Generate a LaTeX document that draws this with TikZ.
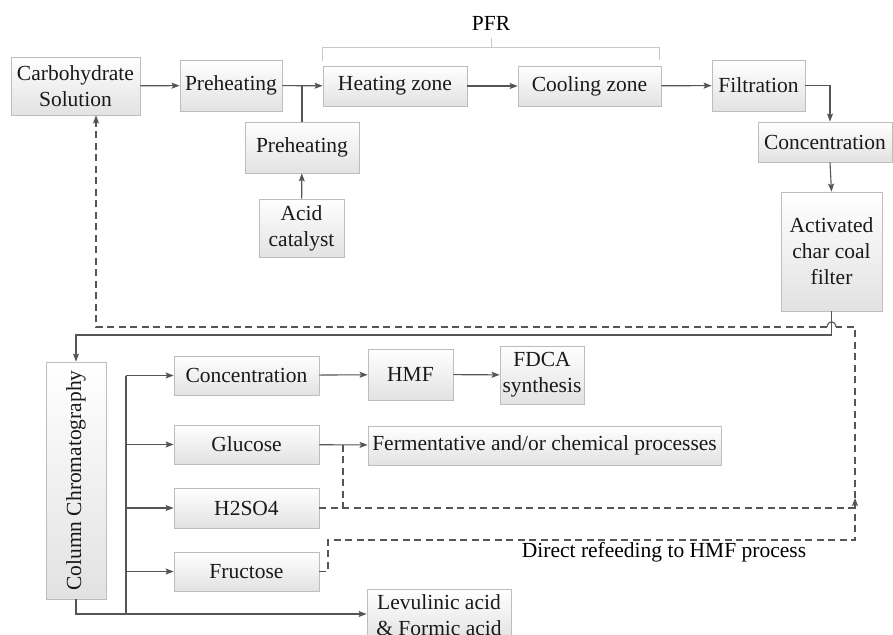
\documentclass[tikz,border=0pt]{standalone}
\usepackage{fontspec}
\setmainfont{Liberation Serif}
\usetikzlibrary{arrows.meta,shadows}
\definecolor{linec}{HTML}{555555}
\definecolor{boxb}{HTML}{BDBDBD}
\definecolor{boxbot}{HTML}{E2E2E2}
\definecolor{brk}{HTML}{C8C8C8}
\begin{document}
\begin{tikzpicture}[x=1pt,y=-1pt,
  font=\fontsize{21.5}{26}\selectfont,
  box/.style={draw=boxb, line width=0.8pt, top color=white, bottom color=boxbot,
    drop shadow={shadow xshift=1.3pt, shadow yshift=-1.3pt, fill=black, opacity=0.12},
    inner sep=2pt, align=center, text=black!90},
  ln/.style={draw=linec, line width=1.1pt},
  tip/.style={-{Stealth[length=8pt,width=6pt,inset=1.5pt]}},
  arr/.style={ln, tip},
  dsh/.style={ln, dash pattern=on 7pt off 4.5pt},
  brk/.style={draw=brk, line width=0.9pt}]
\useasboundingbox (0,0) rectangle (893,634);

% top row
\node[box, minimum width=129, minimum height=58] (carb) at (75.5,86) {Carbohydrate\\Solution};
\node[box, minimum width=102, minimum height=51] (pre1) at (231,85.5) {Preheating};
\node[box, minimum width=144, minimum height=40] (heat) at (395,86) {Heating zone};
\node[box, minimum width=143, minimum height=40] (cool) at (589.5,86) {Cooling zone};
\node[box, minimum width=93, minimum height=51] (filt) at (758.5,85.5) {Filtration};
\node[box, minimum width=134, minimum height=40] (conc) at (825,142) {Concentration};
\node[box, minimum width=101, minimum height=119] (act) at (831.5,251.5) {Activated\\char coal\\filter};
\node[box, minimum width=114, minimum height=51] (pre2) at (302,147.5) {Preheating};
\node[box, minimum width=85, minimum height=58] (acid) at (301.5,228) {Acid\\catalyst};

% PFR bracket
\node (pfr) at (491,23) {PFR};
\draw[brk] (322,61) -- (322,47) -- (659,47) -- (659,60);
\draw[brk] (491,47) -- (491,38);

% lower part
\node[box, rotate=90, minimum width=237, minimum height=60] (col) at (76,480.5) {Column Chromatography};
\node[box, minimum width=145, minimum height=39] (conc2) at (246.5,375.5) {Concentration};
\node[box, minimum width=145, minimum height=39] (glu) at (246.5,444.5) {Glucose};
\node[box, minimum width=145, minimum height=40] (h2) at (246.5,508) {H2SO4};
\node[box, minimum width=145, minimum height=39] (fru) at (246.5,571.5) {Fructose};
\node[box, minimum width=85, minimum height=51] (hmf) at (410.5,374.5) {HMF};
\node[box, minimum width=84, minimum height=58] (fdca) at (542,375) {FDCA\\synthesis};
\node[box, minimum width=353, minimum height=39] (ferm) at (544.5,445.5) {Fermentative and/or chemical processes};
\node[box, anchor=north, minimum width=144, inner ysep=5pt] (lev) at (439,589) {Levulinic acid\\\& Formic acid};
\node (refeed) at (664,552) {Direct refeeding to HMF process};

% top connectors
\draw[arr] (carb) -- (pre1);
\draw[arr] (pre1) -- (heat);
\draw[ln] (pre2.north) -- (pre2.north |- pre1.east);
\draw[arr] (acid) -- (pre2);
\draw[arr] (heat) -- (cool);
\draw[arr] (cool) -- (filt);
\coordinate (cx) at (830,0);
\draw[arr] (filt.east) -| (conc.north -| cx);
\draw[arr] (conc.south -| cx) -- (act.north);

% to column
\coordinate (bus) at (831.5,335);
\draw[ln] (act.south) -- (bus);
\draw[arr] (bus) -| (col.east);

% branches
\coordinate (br) at (126,614);
\draw[arr] (col.west) |- (lev.north west |- br);
\draw[ln] (br) -- (br |- conc2);
\draw[arr] (br |- conc2) -- (conc2);
\draw[arr] (br |- glu) -- (glu);
\draw[arr] (br |- h2) -- (h2);
\draw[arr] (br |- fru) -- (fru);
\draw[arr] (conc2) -- (hmf);
\draw[arr] (hmf) -- (fdca);
\draw[arr] (glu) -- (ferm);

% dashed recycle
\coordinate (dj) at (343,444.5);
\coordinate (rx) at (855,540);
\coordinate (tipP) at (855,498);
\coordinate (topD) at (855,327);
\coordinate (hopR) at (836,327);
\coordinate (hopL) at (827,327);
\coordinate (dx) at (96,327);
\draw[dsh] (dj) -- (dj |- h2);
\draw[dsh] (h2.east) -- (h2 -| rx);
\draw[dsh, tip] (fru.east) -- (328,571.5) -- (328,540) -- (rx) -- (tipP);
\draw[dsh] (tipP) -- (topD) -- (hopR);
\draw[ln] (hopR) .. controls (835,320) and (828,320) .. (hopL);
\draw[dsh, tip] (hopL) -- (dx) -- (carb.south -| dx);
\end{tikzpicture}
\end{document}
